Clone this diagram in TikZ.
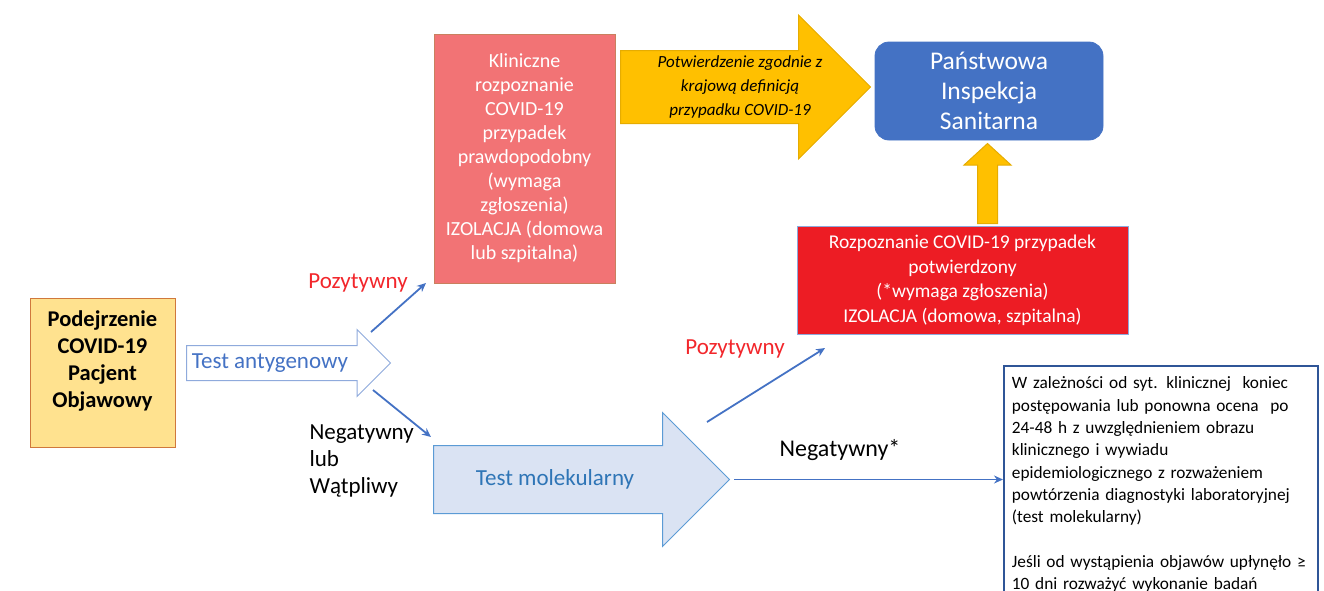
\documentclass[tikz,border=0pt]{standalone}
\usepackage{fontspec}
\setmainfont{Carlito}
\usetikzlibrary{shapes.arrows,arrows.meta}
\definecolor{suspect-fill}{HTML}{FFE28F}
\definecolor{suspect-border}{HTML}{D0783C}
\definecolor{clinical-fill}{HTML}{F27375}
\definecolor{clinical-border}{HTML}{C9805E}
\definecolor{gold-color}{HTML}{FFC000}
\definecolor{gold-border}{HTML}{E6AC00}
\definecolor{pis-color}{HTML}{4472C4}
\definecolor{confirmed-fill}{HTML}{ED1C24}
\definecolor{confirmed-border}{HTML}{8EA9DB}
\definecolor{mol-fill}{HTML}{DAE3F3}
\definecolor{mol-border}{HTML}{5B9BD5}
\definecolor{mol-text}{HTML}{2E75B6}
\definecolor{antigen-border}{HTML}{8FAADC}
\definecolor{conn-color}{HTML}{4472C4}
\definecolor{positive-color}{HTML}{F2262B}
\definecolor{advice-border}{HTML}{2F5597}

\begin{document}
\begin{tikzpicture}[x=1pt,y=-1pt,
box/.style={draw, rectangle, align=center, inner sep=0pt, line width=0.8pt},
blockarrow/.style={single arrow, single arrow tip angle=90, inner sep=0pt, line width=1pt, text width=0pt},
conn/.style={draw=conn-color, line width=1.8pt, -{Stealth[length=9pt,width=8pt]}},
lbl/.style={font=\fontsize{23}{27}\selectfont}]
\clip (0,0) rectangle (1324,590);

\node (Suspect) [box, draw=suspect-border, fill=suspect-fill, minimum width=145, minimum height=149, font=\bfseries\fontsize{22.5}{27}\selectfont] at (102.5,372.5) {Podejrzenie\\COVID-19\\Pacjent\\Objawowy\\\mbox{}};
%
\node (Antigen) [blockarrow, draw=antigen-border, fill=white, text height=17pt, text depth=17pt, minimum height=204, minimum width=66, single arrow head extend=16, anchor=tail] at (186,363) {};
\node (AntigenText) [lbl, text=pis-color] at ([xshift=84pt]Antigen.tail) {Test antygenowy};
%
\node (Clinical) [box, draw=clinical-border, fill=clinical-fill, text=white, minimum width=181, minimum height=249, font=\fontsize{20}{24}\selectfont] at (524.5,158.5) {Kliniczne\\rozpoznanie\\COVID-19\\przypadek\\prawdopodobny\\(wymaga\\zgłoszenia)\\IZOLACJA (domowa\\lub szpitalna)};
%
\node (Confirm) [blockarrow, draw=gold-border, fill=gold-color, text height=36pt, text depth=36pt, minimum height=250, minimum width=143, single arrow head extend=35.5, anchor=tail] at (620,87) {};
\node (ConfirmText) [align=center, font=\itshape\fontsize{17}{24}\selectfont] at ([xshift=120pt]Confirm.tail) {Potwierdzenie zgodnie z\\krajową definicją\\przypadku COVID-19};
%
\node (PIS) [box, rounded corners=14pt, draw=pis-color, fill=pis-color, text=white, minimum width=228, minimum height=98, font=\fontsize{25.5}{30}\selectfont] at (989,91) {Państwowa\\Inspekcja\\Sanitarna};
%
\node (Report) [blockarrow, shape border rotate=90, single arrow tip angle=95, draw=gold-border, fill=gold-color, text width=19pt, text height=0pt, text depth=0pt, minimum height=80, minimum width=46, single arrow head extend=13.5, anchor=tail] at (987.5,224) {};
%
\node (Confirmed) [box, draw=confirmed-border, fill=confirmed-fill, text=white, minimum width=331, minimum height=108, font=\fontsize{19.5}{24.5}\selectfont] at (962.5,280.5) {Rozpoznanie COVID-19 przypadek\\potwierdzony\\(*wymaga zgłoszenia)\\IZOLACJA (domowa, szpitalna)};
%
\node (Mol) [blockarrow, draw=mol-border, fill=mol-fill, text height=33.5pt, text depth=33.5pt, minimum height=296, minimum width=133, single arrow head extend=33, anchor=tail] at (433,479.5) {};
\node (MolText) [lbl, text=mol-text] at ([xshift=122pt]Mol.tail) {Test molekularny};
%
\node (Advice) [draw=advice-border, line width=1.8pt, anchor=north west, text width=298, inner xsep=8, inner ysep=5, align=left, minimum height=260, font=\fontsize{17.3}{22.3}\selectfont] at (1003,365) {W zależności od syt. klinicznej\ \ koniec\\postępowania lub ponowna ocena\ \ po\\24-48 h z uwzględnieniem obrazu\\klinicznego i wywiadu\\epidemiologicznego z rozważeniem\\powtórzenia diagnostyki laboratoryjnej\\(test molekularny)\\[22.3pt]Jeśli od wystąpienia objawów upłynęło ≥\\10 dni rozważyć wykonanie badań\\serologicznych anty-SARSCoV-2 **};

% labels
\node (Pos1) [lbl, text=positive-color] at (358,283) {Pozytywny};
\node (Neg1) [lbl, anchor=west, align=left] at (306,461) {Negatywny\\lub\\Wątpliwy};
\node (Pos2) [lbl, text=positive-color] at (735,349) {Pozytywny};
\node (Neg2) [lbl, font=\fontsize{24}{27}\selectfont] at (840,450) {Negatywny*};

% connectors
\coordinate (pos1-start) at (371,332);
\coordinate (pos1-end) at (426,283);
\coordinate (neg1-start) at (373,390);
\coordinate (neg1-end) at (431,437);
\coordinate (pos2-start) at (707,422);
\coordinate (pos2-end) at (825,348);
\draw[conn] (pos1-start) -- (pos1-end);
\draw[conn] (neg1-start) -- (neg1-end);
\draw[conn] (pos2-start) -- (pos2-end);
\draw[conn] ([xshift=4pt]Mol.tip) -- (Mol.tip -| Advice.west);

\end{tikzpicture}
\end{document}
